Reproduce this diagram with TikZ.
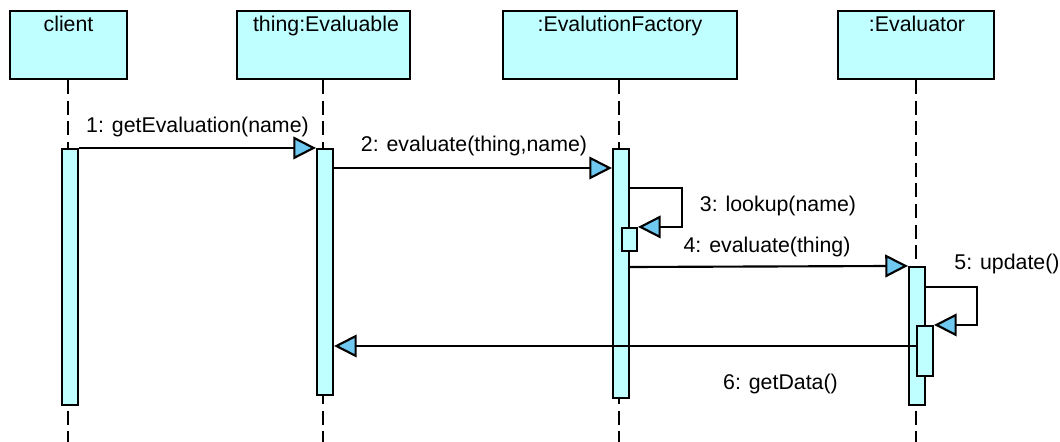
\documentclass[tikz,border=0pt]{standalone}
\usepackage{fontspec}
\setmainfont{Liberation Sans}
\usetikzlibrary{arrows.meta,fit}
\definecolor{boxfill}{RGB}{192,255,255}
\definecolor{tipfill}{RGB}{110,200,240}

\begin{document}
\begin{tikzpicture}[x=0.75pt,y=-0.75pt,
  font=\fontsize{16}{19}\selectfont,
  obj/.style={draw, line width=1.6pt, fill=boxfill, inner sep=0pt},
  actbar/.style={draw, line width=1.6pt, fill=boxfill, inner sep=0pt},
  lifeline/.style={line width=1.6pt, dash pattern=on 10.5pt off 5pt},
  msg/.style={line width=1.6pt,
    -{Triangle[length=17pt 0 0,width=17pt 0 0,fill=tipfill]}},
  lbl/.style={anchor=base, inner sep=0pt}]
\useasboundingbox (0,0) rectangle (1060,442);

% object heads
\node[obj, fit={(10,11) (127,79)}] (client) {};
\node[obj, fit={(237,11) (410,79)}] (thing) {};
\node[obj, fit={(503,11) (737,79)}] (factory) {};
\node[obj, fit={(838,11) (994,79)}] (evaluator) {};
\node[lbl] (tclient) at (68.5,32) {client};
\node[lbl] (tthing) at (326,32) {thing:Evaluable};
\node[lbl] (tfactory) at (620,32) {:EvalutionFactory};
\node[lbl] (tevaluator) at (917,32) {:Evaluator};

% lifelines
\coordinate (endc) at (68,442);
\coordinate (endt) at (323,442);
\coordinate (endf) at (619,442);
\coordinate (ende) at (916,442);
\draw[lifeline] (client.south -| endc) -- (endc);
\draw[lifeline] (thing.south -| endt) -- (endt);
\draw[lifeline] (factory.south -| endf) -- (endf);
\draw[lifeline] (evaluator.south -| ende) -- (ende);

% activation bars
\node[actbar, fit={(62,149) (78,405)}] (cbar) {};
\node[actbar, fit={(317,149) (333,395)}] (tbar) {};
\node[actbar, fit={(613,149) (629,398)}] (fbar) {};
\node[actbar, fit={(622,228) (637,251)}] (fsub) {};
\node[actbar, fit={(909,267) (925,405)}] (ebar) {};
\node[actbar, fit={(917,326) (933,376)}] (esub) {};

% messages
\draw[msg] (cbar.north east) -- (tbar.north west);
\draw[msg] (tbar.east |- 0,168) -- (fbar.west |- 0,168);
\draw[msg] (fbar.east |- 0,188) -- ++(52,0) |- (fsub.north east);
\draw[msg] (fbar.east |- 0,267) -- (ebar.north west);
\draw[msg] (ebar.east |- 0,287) -- ++(51,0) |- (esub.north east);
\draw[msg] (esub.west |- 0,346) -- (tbar.east |- 0,346);

% message labels
\node[lbl] (l1) at (197.5,133) {1: getEvaluation(name)};
\node[lbl] (l2) at (474,152) {2: evaluate(thing,name)};
\node[lbl] (l3) at (778,211) {3: lookup(name)};
\node[lbl] (l4) at (767,252) {4: evaluate(thing)};
\node[lbl] (l5) at (1007,269) {5: update()};
\node[lbl] (l6) at (780.5,389) {6: getData()};
\end{tikzpicture}
\end{document}
